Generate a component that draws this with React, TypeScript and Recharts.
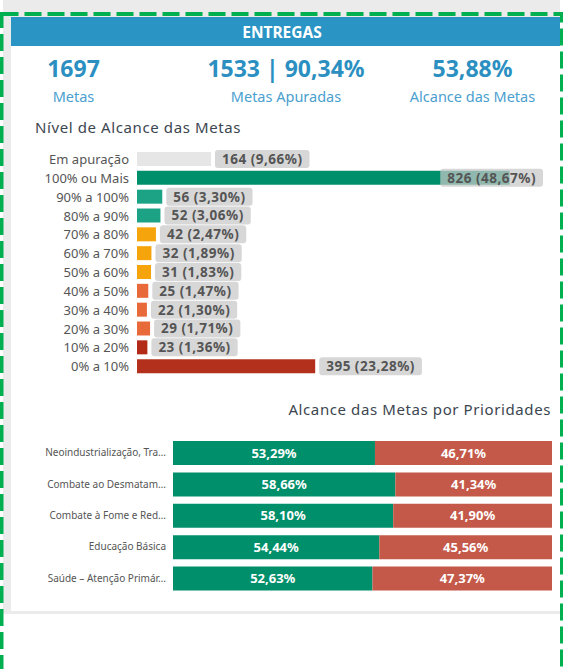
import React from 'react';
import { BarChart, Bar, XAxis, YAxis, Cell, LabelList } from 'recharts';

// ---------- data ----------
const kpiValues = ['1697', '1533 | 90,34%', '53,88%'];
const kpiLabels = ['Metas', 'Metas Apuradas', 'Alcance das Metas'];

const levelCategories = [
  'Em apuração', '100% ou Mais', '90% a 100%', '80% a 90%', '70% a 80%', '60% a 70%',
  '50% a 60%', '40% a 50%', '30% a 40%', '20% a 30%', '10% a 20%', '0% a 10%',
];
const levelCounts = [164, 826, 56, 52, 42, 32, 31, 25, 22, 29, 23, 395];
const levelShares = ['9,66', '48,67', '3,30', '3,06', '2,47', '1,89', '1,83', '1,47', '1,30', '1,71', '1,36', '23,28'];

const priorityCategories = [
  'Neoindustrialização, Tra…',
  'Combate ao Desmatam…',
  'Combate à Fome e Red…',
  'Educação Básica',
  'Saúde – Atenção Primár…',
];
const achievedPct = [53.29, 58.66, 58.1, 54.44, 52.63];
const notAchievedPct = [46.71, 41.34, 41.9, 45.56, 47.37];

// ---------- styles ----------
const levelColors = [
  '#e6e6e6', '#008f6b', '#1ca385', '#1ca385', '#f5a40c', '#f5a40c',
  '#f5a40c', '#e8693a', '#e8693a', '#e8693a', '#b22b18', '#b3301c',
];
const GREEN = '#008f6b';
const RED = '#c4594a';
const BLUE = '#2a94c5';
const FONT = '"Noto Sans", sans-serif';

const levelData = levelCategories.map((name, i) => ({
  name,
  count: levelCounts[i],
  label: `${levelCounts[i]} (${levelShares[i]}%)`,
}));

const priorityData = priorityCategories.map((name, i) => ({
  name,
  yes: achievedPct[i],
  no: notAchievedPct[i],
}));

const fmtPct = (v: number) => v.toFixed(2).replace('.', ',') + '%';

let ctx: CanvasRenderingContext2D | null = null;
const measure = (t: string, font: string) => {
  if (!ctx) ctx = document.createElement('canvas').getContext('2d');
  if (!ctx) return t.length * 7;
  ctx.font = font;
  return ctx.measureText(t).width;
};

const C1_PLOT_RIGHT = 543;
const LBL_SPACING = 0.5;

const LevelLabel = (props: any) => {
  const vb = props.viewBox || {};
  const x = props.x ?? vb.x;
  const y = props.y ?? vb.y;
  const width = props.width ?? vb.width;
  const height = props.height ?? vb.height;
  const text = String(props.value);
  const tw = measure(text, `bold 13.5px ${FONT}`) + text.length * LBL_SPACING;
  const bw = tw + 14;
  const bh = 18;
  let bx = x + width + 4;
  if (bx + bw > C1_PLOT_RIGHT) bx = C1_PLOT_RIGHT - bw;
  const cy = y + height / 2;
  return (
    <g>
      <rect x={bx} y={cy - bh / 2} width={bw} height={bh} rx={3} ry={3} fill="rgba(200,200,200,0.72)" />
      <text x={bx + 7} y={cy} dy="0.36em" fill="#555555" fontFamily={FONT} fontSize={13.5}
        fontWeight={700} letterSpacing={LBL_SPACING}>
        {text}
      </text>
    </g>
  );
};

const CenterLabel = (props: any) => {
  const vb = props.viewBox || {};
  const x = props.x ?? vb.x;
  const y = props.y ?? vb.y;
  const width = props.width ?? vb.width;
  const height = props.height ?? vb.height;
  return (
    <text x={x + width / 2} y={y + height / 2} dy="0.36em" textAnchor="middle" fill="#ffffff"
      fontFamily={FONT} fontSize={13} fontWeight={700}>
      {fmtPct(Number(props.value))}
    </text>
  );
};

const PriorityTick = (props: any) => {
  const { x, y, payload } = props;
  return (
    <text x={x} y={y} dy="0.35em" textAnchor="end" fill="#555555" fontFamily={FONT} fontSize={10}>
      {payload.value}
    </text>
  );
};

const LevelTick = (props: any) => {
  const { x, y, payload } = props;
  return (
    <text x={x} y={y} dy="0.36em" textAnchor="end" fill="#555555" fontFamily={FONT} fontSize={13}>
      {payload.value}
    </text>
  );
};

export default function App() {
  return (
    <div style={{ position: 'absolute', left: 0, top: 0, width: 563, height: 669, background: '#ffffff', overflow: 'hidden', fontFamily: FONT }}>
      {/* background, card, header and texts */}
      <svg width={563} height={669} style={{ position: 'absolute', left: 0, top: 0 }}>
        <rect x={3} y={0} width={557} height={614} fill="#ebebeb" />
        <rect x={11} y={17} width={549} height={594} fill="#ffffff" />
        <rect x={11} y={17} width={549} height={29} fill={BLUE} />
        <text x={282} y={37.5} textAnchor="middle" fill="#ffffff" fontFamily={FONT} fontSize={15.5} fontWeight={700}>ENTREGAS</text>
        {[73.5, 286, 472.5].map((cx, i) => (
          <g key={i}>
            <text x={cx} y={77.3} textAnchor="middle" fill="#2b8fc1" fontFamily={FONT} fontSize={23} fontWeight={700}>{kpiValues[i]}</text>
            <text x={cx} y={101.7} textAnchor="middle" fill="#4aa0cf" fontFamily={FONT} fontSize={14.5}>{kpiLabels[i]}</text>
          </g>
        ))}
        <text x={35} y={132.5} fill="#3c4650" fontFamily={FONT} fontSize={15} letterSpacing={0.6}>Nível de Alcance das Metas</text>
        <text x={551} y={415} textAnchor="end" fill="#3c4650" fontFamily={FONT} fontSize={15} letterSpacing={0.6}>Alcance das Metas por Prioridades</text>
      </svg>

      {/* chart 1 */}
      <div style={{ position: 'absolute', left: 0, top: 150 }}>
        <BarChart width={563} height={226} data={levelData} layout="vertical"
          margin={{ top: 0, right: 20, bottom: 0, left: 0 }} barSize={14}>
          <XAxis type="number" domain={[0, 900]} hide />
          <YAxis type="category" dataKey="name" width={137} axisLine={false} tickLine={false}
            tickSize={0} tickMargin={8} interval={0} tick={LevelTick} />
          <Bar dataKey="count" isAnimationActive={false}>
            {levelData.map((d, i) => (
              <Cell key={d.name} fill={levelColors[i]} />
            ))}
            <LabelList dataKey="label" content={LevelLabel} />
          </Bar>
        </BarChart>
      </div>

      {/* chart 2 */}
      <div style={{ position: 'absolute', left: 0, top: 437 }}>
        <BarChart width={563} height={157} data={priorityData} layout="vertical"
          margin={{ top: 0, right: 11, bottom: 0, left: 0 }} barSize={24}>
          <XAxis type="number" domain={[0, 100]} hide />
          <YAxis type="category" dataKey="name" width={173} axisLine={false} tickLine={false}
            tickSize={0} tickMargin={7} interval={0} tick={PriorityTick} />
          <Bar dataKey="yes" stackId="a" fill={GREEN} isAnimationActive={false}>
            <LabelList dataKey="yes" content={CenterLabel} />
          </Bar>
          <Bar dataKey="no" stackId="a" fill={RED} isAnimationActive={false}>
            <LabelList dataKey="no" content={CenterLabel} />
          </Bar>
        </BarChart>
      </div>

      {/* green dashed border */}
      <svg width={563} height={669} style={{ position: 'absolute', left: 0, top: 0, pointerEvents: 'none' }}>
        <rect x={1.5} y={14} width={560.5} height={700} fill="none" stroke="#00b050" strokeWidth={4} strokeDasharray="17 6" />
      </svg>
    </div>
  );
}
